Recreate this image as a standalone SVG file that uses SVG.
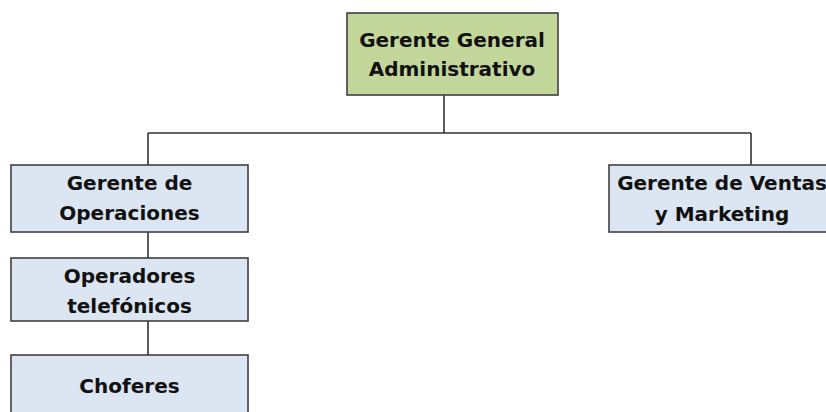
<svg xmlns="http://www.w3.org/2000/svg" width="826" height="412" viewBox="0 0 826 412">
<style>
.box{stroke:#404040;stroke-width:1.6}
.g{fill:#c4d79b}
.b{fill:#dce6f2}
.t{font-family:"DejaVu Sans",sans-serif;font-weight:bold;font-size:20px;fill:#111;text-anchor:middle}
.c{stroke:#333;stroke-width:1.6;fill:none}
</style>
<rect width="826" height="412" fill="#fff"/>
<g id="connectors">
<path class="c" d="M444 95V133M148 133H751M148 133V165M751 133V165M148 232V258M148 321V355"/>
</g>
<g id="gerente-general">
<rect class="box g" x="347" y="13" width="211" height="82"/>
<text class="t" x="452" y="47">Gerente General</text>
<text class="t" x="452" y="76">Administrativo</text>
</g>
<g id="gerente-operaciones">
<rect class="box b" x="11" y="165" width="237" height="67"/>
<text class="t" x="129.5" y="190">Gerente de</text>
<text class="t" x="129.5" y="220">Operaciones</text>
</g>
<g id="operadores">
<rect class="box b" x="11" y="258" width="237" height="63"/>
<text class="t" x="129.5" y="283">Operadores</text>
<text class="t" x="129.5" y="313">telefónicos</text>
</g>
<g id="choferes">
<rect class="box b" x="11" y="355" width="237" height="70"/>
<text class="t" x="129.5" y="393">Choferes</text>
</g>
<g id="gerente-ventas">
<rect class="box b" x="609" y="165" width="226" height="67"/>
<text class="t" x="722" y="190">Gerente de Ventas</text>
<text class="t" x="722" y="221">y Marketing</text>
</g>
</svg>
